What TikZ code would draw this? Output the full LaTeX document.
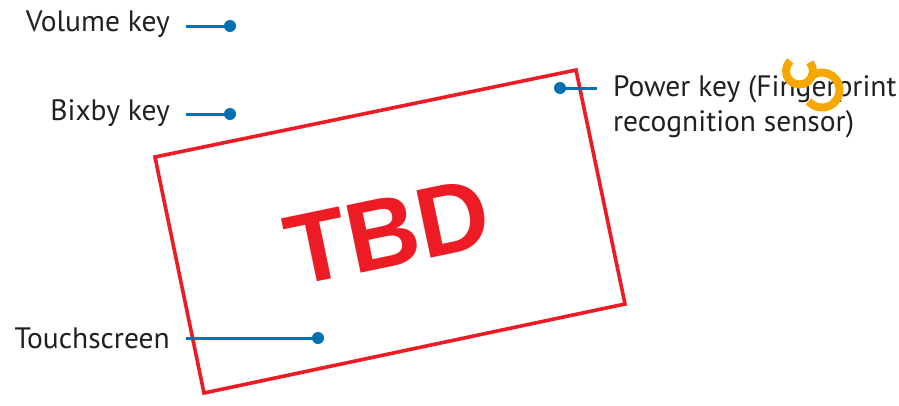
\documentclass[tikz,border=0pt]{standalone}
\usepackage{fontspec}
\setmainfont{PT Sans}
\newfontfamily\tbdfont{Liberation Sans}
\definecolor{txtgray}{HTML}{231F20}
\definecolor{callblue}{HTML}{0071B3}
\definecolor{tbdred}{HTML}{ED1C24}
\definecolor{ringorange}{HTML}{F7A800}
\begin{document}
\begin{tikzpicture}[x=1pt,y=-1pt,
  lbl/.style={inner sep=0pt, text=txtgray, font=\fontsize{29.5}{35.5}\selectfont},
  callout/.style={draw=callblue, line width=3pt},
  dotnode/.style={circle, fill=callblue, inner sep=0pt, minimum size=12pt},
  frame/.style={draw=tbdred, line width=3.6pt, line join=miter},
  ring/.style={draw=ringorange, line width=8pt}]
\useasboundingbox (0,0) rectangle (899,405);
% device outline
\coordinate (tl) at (155,157);
\coordinate (tr) at (576,70);
\coordinate (br) at (625,304);
\coordinate (bl) at (204,393);
\draw[frame] (tl) -- (tr) -- (br) -- (bl) -- cycle;
\node[rotate=11.8, text=tbdred, inner sep=0pt,
  font=\tbdfont\bfseries\fontsize{100}{100}\selectfont] (tbd) at (388,232) {TBD};
% labels
\node[lbl, anchor=east] (vol) at (170,24) {Volume key};
\node[lbl, anchor=east] (bix) at (170,113) {Bixby key};
\node[lbl, anchor=east] (touch) at (170,338) {Touchscreen};
\node[lbl, anchor=north west, align=left] (pow) at (613,75) {Power key (Fingerprint\\recognition sensor)};
% dots
\node[dotnode] (dvol) at (230,26) {};
\node[dotnode] (dbix) at (230,114) {};
\node[dotnode] (dtouch) at (318,338) {};
\node[dotnode] (dpow) at (560,88) {};
% callout lines
\coordinate (evol) at (186,26);
\coordinate (ebix) at (186,114);
\coordinate (etouch) at (186,338);
\coordinate (epow) at (597,88);
\draw[callout] (evol) -- (dvol.center);
\draw[callout] (ebix) -- (dbix.center);
\draw[callout] (etouch) -- (dtouch.center);
\draw[callout] (dpow.center) -- (epow);
% orange mark
\coordinate (r1) at (799.5,71);
\coordinate (r2) at (822,90);
\draw[ring] (r1) ++(228:13.5) arc[start angle=228, end angle=-40, radius=13.5];
\draw[ring] (r2) ++(140:17.5) arc[start angle=140, end angle=-133, radius=17.5];
\end{tikzpicture}
\end{document}
